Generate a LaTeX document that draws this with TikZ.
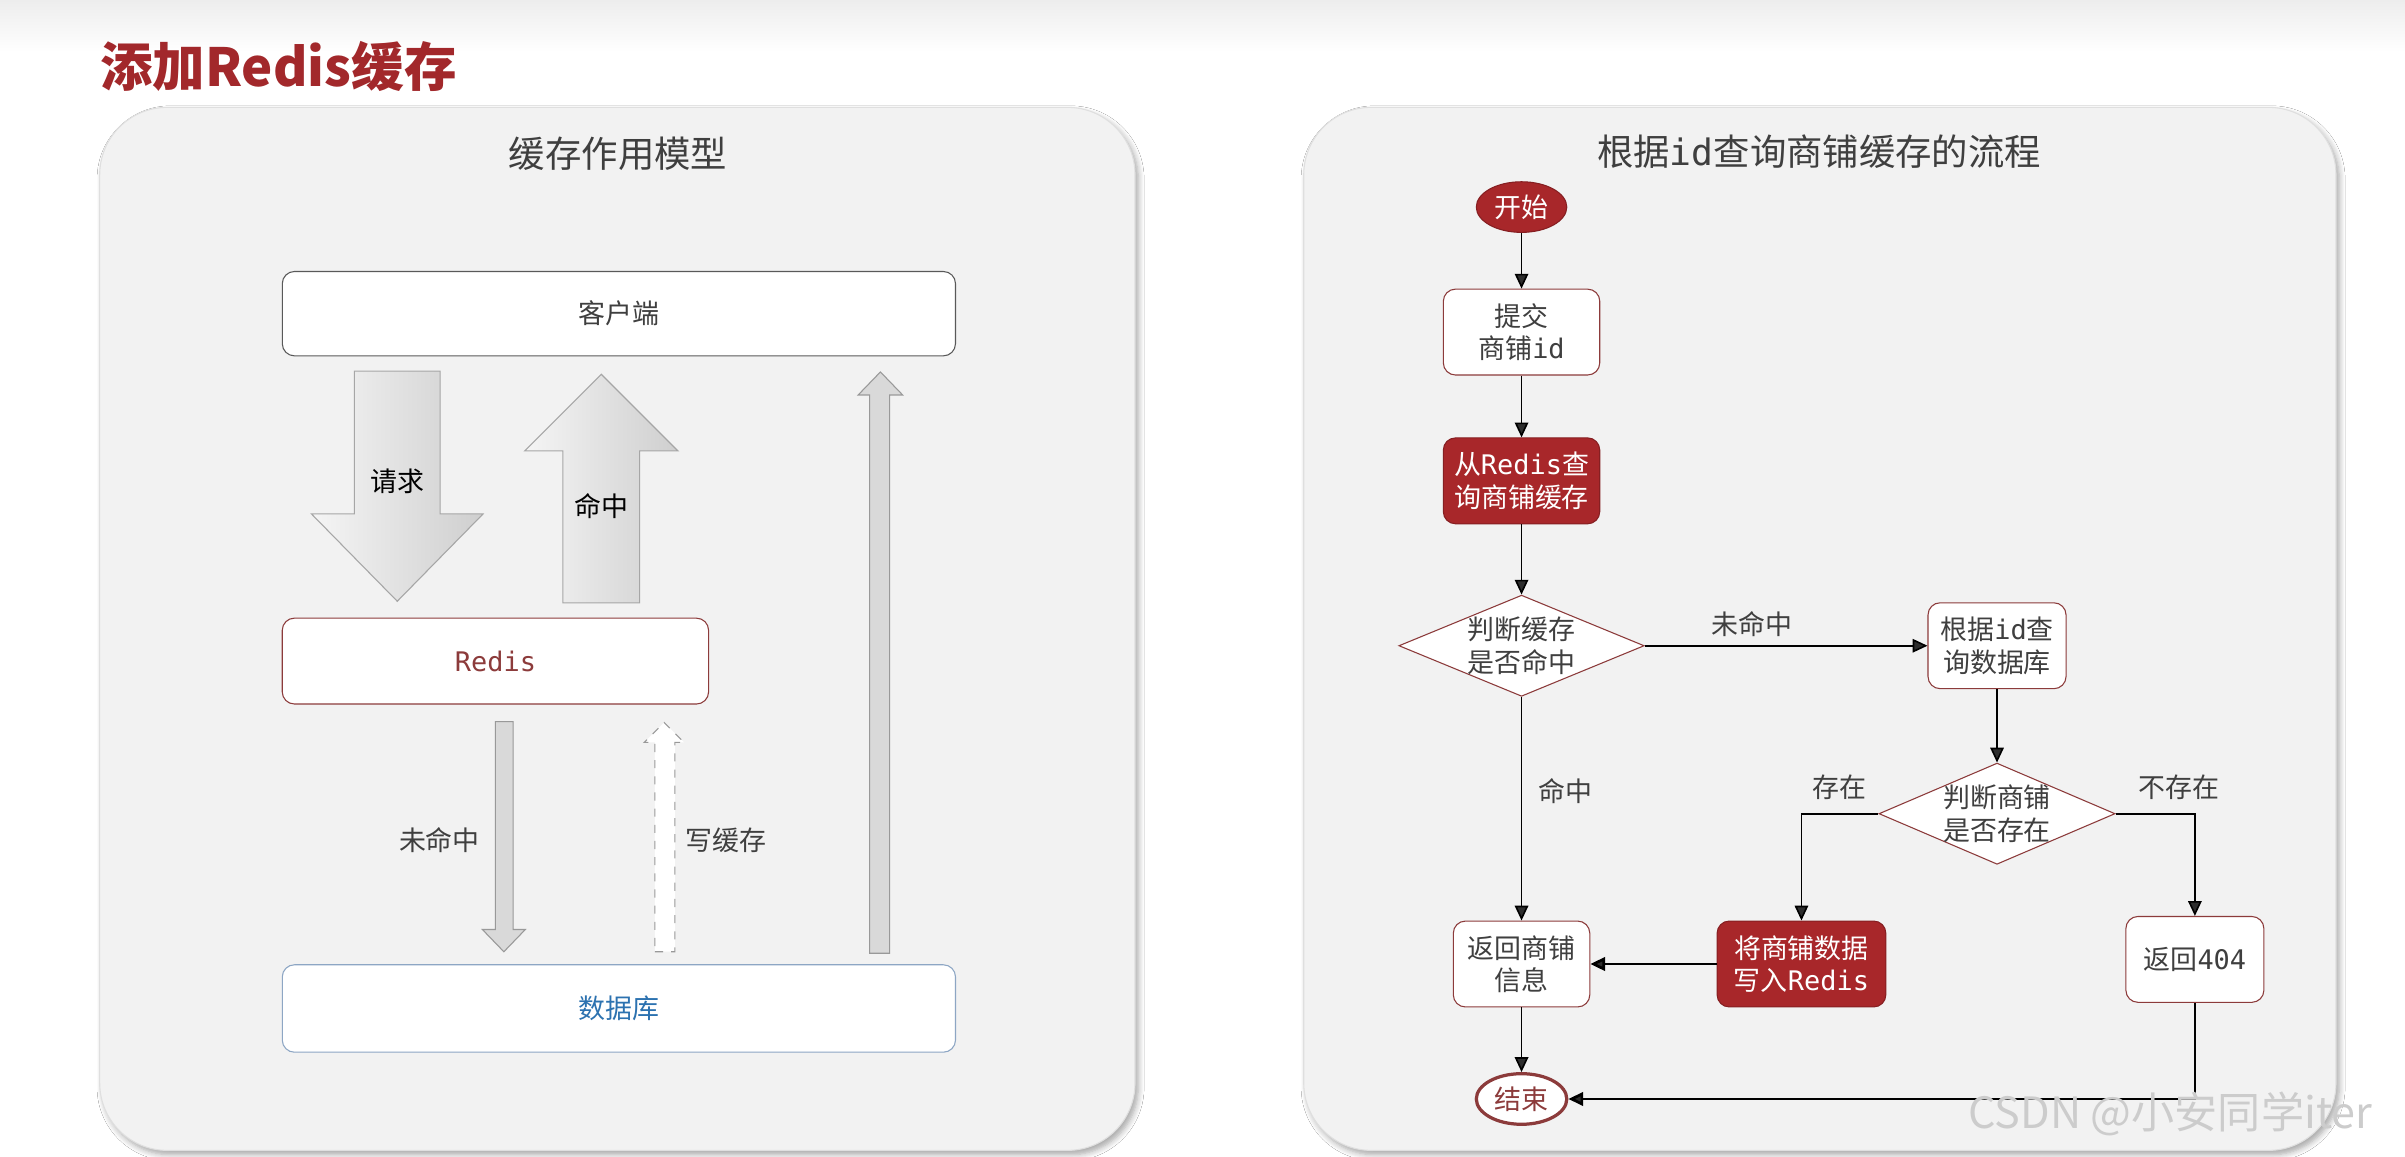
\documentclass[tikz,border=0pt]{standalone}
\usepackage{fontspec}
\setmainfont{Noto Sans CJK SC}
\newfontfamily\codefont{DejaVu Sans Mono}
\usetikzlibrary{arrows.meta, shapes.geometric, shadows.blur}
\definecolor{titlered}{HTML}{A2282B}
\definecolor{fillred}{HTML}{A8272A}
\definecolor{linered}{HTML}{8C3B3B}
\definecolor{panelgray}{HTML}{F2F2F2}
\definecolor{textgray}{HTML}{3F3F3F}
\definecolor{dbblue}{HTML}{2C72B0}
\definecolor{dbline}{HTML}{8DA6C4}

\begin{document}
\begin{tikzpicture}[x=0.02cm, y=-0.02cm,
    panel/.style={fill=panelgray, draw=gray!25, rounded corners=25pt, blur shadow={shadow xshift=1.2pt, shadow yshift=-1.6pt, shadow blur steps=6, shadow opacity=35}},
    paneltitle/.style={text=textgray, font=\fontsize{13.5}{16}\selectfont},
    lbox/.style={draw=gray!70!black, fill=white, rounded corners=4.5pt, inner sep=0pt, text=textgray, font=\fontsize{10}{12}\selectfont},
    fbox/.style={draw=linered, fill=white, rounded corners=4.5pt, inner sep=0pt, align=center, text=textgray, font=\fontsize{10}{12}\selectfont, minimum height=1.12cm},
    redbox/.style={fbox, fill=fillred, draw=fillred!80!black, text=white},
    decision/.style={diamond, aspect=2.3, draw=linered, fill=white, inner sep=-1pt, align=center, text=textgray, font=\fontsize{10}{12}\selectfont, minimum height=1.32cm},
    terminal/.style={ellipse, inner sep=0pt, minimum width=1.18cm, minimum height=0.66cm, font=\fontsize{10}{12}\selectfont},
    lbl/.style={text=textgray, inner sep=1pt, font=\fontsize{10}{12}\selectfont},
    flow/.style={-{Triangle[length=5.5pt,width=5pt]}, line width=0.6pt},
    bigarrow/.style={draw=gray!70, left color=gray!8, right color=gray!38},
    thinarrow/.style={draw=gray!80, fill=gray!30},
    writearrow/.style={draw=gray!80, dashed, fill=white}
]
    \useasboundingbox (0,0) rectangle (1568,754);
    \fill[white] (0,0) rectangle (1568,754);
    \fill[top color=gray!14, bottom color=white] (0,0) rectangle (1568,34);
    \node[anchor=west, inner sep=0pt, text=titlered, font=\fontsize{19.5}{24}\selectfont\bfseries] (0) at (65,43) {添加Redis缓存};
    \path[panel] (65,70) rectangle (740,750);
    \path[panel] (850,70) rectangle (1523,750);
    \node[paneltitle] (1) at (403,100) {缓存作用模型};
    \node[paneltitle] (2) at (1186,99) {根据{\codefont id}查询商铺缓存的流程};

    \node[lbox, minimum width=8.78cm, minimum height=1.1cm] (3) at (403.5,204.5) {客户端};
    \node[lbox, draw=linered, text=linered, minimum width=5.56cm, minimum height=1.12cm] (4) at (323,431) {\codefont Redis};
    \node[lbox, draw=dbline, text=dbblue, minimum width=8.78cm, minimum height=1.14cm] (5) at (403.5,657.5) {数据库};
    \draw[bigarrow] (231,242) -- (287,242) -- (287,335) -- (315,335) -- (259,392) -- (203,335) -- (231,335) -- cycle;
    \draw[bigarrow] (367,393) -- (417,393) -- (417,294) -- (442,294) -- (392,244) -- (342,294) -- (367,294) -- cycle;
    \node[lbl, text=black] (6) at (259,314) {请求};
    \node[lbl, text=black] (7) at (392,330) {命中};
    \draw[thinarrow] (323,470.5) -- (334.5,470.5) -- (334.5,606) -- (342.5,606) -- (328.5,620.5) -- (314.5,606) -- (323,606) -- cycle;
    \draw[writearrow] (427,620.5) -- (440,620.5) -- (440,484) -- (446,484) -- (433,471) -- (420,484) -- (427,484) -- cycle;
    \draw[thinarrow] (567,621.5) -- (580,621.5) -- (580,257.5) -- (588.5,257.5) -- (574,242.5) -- (559.5,257.5) -- (567,257.5) -- cycle;
    \node[lbl] (8) at (286.5,548) {未命中};
    \node[lbl] (9) at (473.5,548) {写缓存};

    \node[terminal, fill=fillred, draw=fillred!80!black, text=white] (10) at (992,135) {开始};
    \node[fbox, minimum width=2.04cm] (11) at (992,216.5) {提交\\商铺{\codefont id}};
    \node[redbox, minimum width=2.04cm] (12) at (992,313.5) {从{\codefont Redis}查\\询商铺缓存};
    \node[decision, minimum width=3.2cm] (13) at (992,421) {判断缓存\\是否命中};
    \node[fbox, minimum width=1.8cm] (14) at (1302,421) {根据{\codefont id}查\\询数据库};
    \node[decision, minimum width=3.08cm] (15) at (1302,530.5) {判断商铺\\是否存在};
    \node[fbox, minimum width=1.78cm] (16) at (992,628.5) {返回商铺\\信息};
    \node[redbox, minimum width=2.2cm] (17) at (1174.5,628.5) {将商铺数据\\写入{\codefont Redis}};
    \node[fbox, minimum width=1.8cm] (18) at (1431,625.5) {返回{\codefont 404}};
    \node[terminal, draw=linered, line width=1.2pt, fill=white, text=linered] (19) at (992,716.5) {结束};

    \draw[flow] (10) -- (11);
    \draw[flow] (11) -- (12);
    \draw[flow] (12) -- (13);
    \draw[flow] (13) -- node[lbl, pos=0.38, above=2pt] (20) {未命中} (14);
    \draw[flow] (14) -- (15);
    \draw[flow] (15.west) -| node[lbl, pos=0.25, above=4pt] (21) {存在} (17.north);
    \draw[flow] (15.east) -| node[lbl, pos=0.4, above=4pt] (22) {不存在} (18.north);
    \draw[flow] (13) -- node[lbl, pos=0.42, right=5pt] (23) {命中} (16);
    \draw[flow, line width=1pt] (17) -- (16);
    \draw[flow] (16) -- (19);
    \draw[flow, line width=1pt] (18.south) |- (19.east);
    \node[anchor=west, inner sep=0pt, text=gray!40, font=\fontsize{16}{18}\selectfont] (24) at (1283,726) {CSDN @小安同学iter};
\end{tikzpicture}
\end{document}
